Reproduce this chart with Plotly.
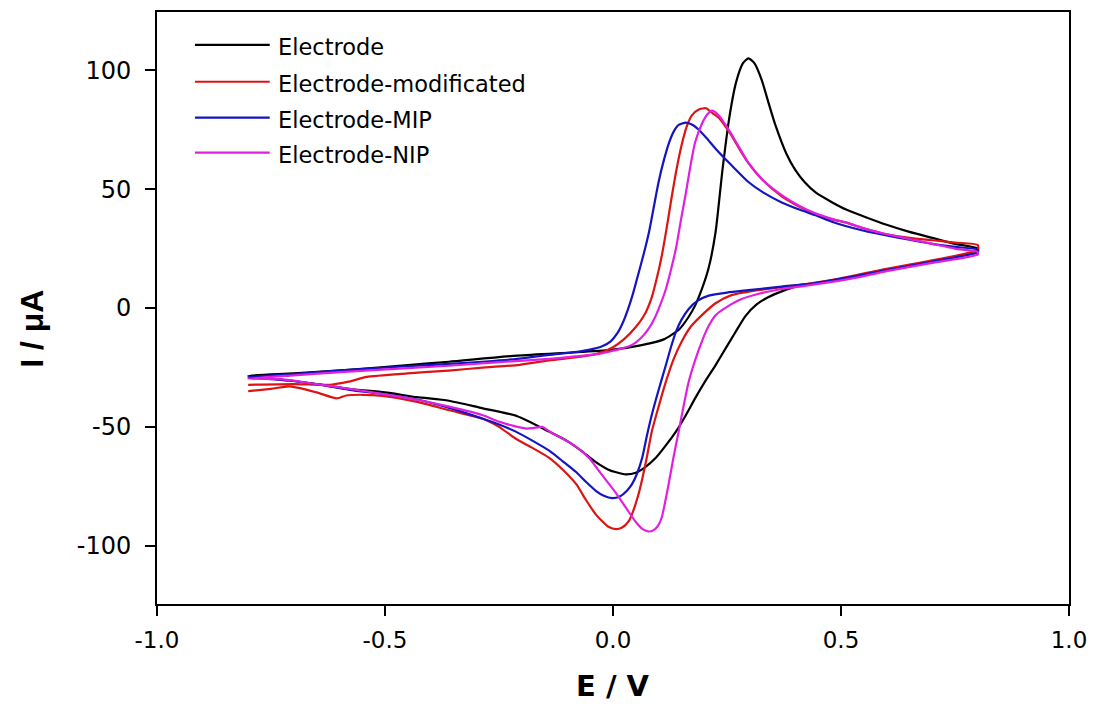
import plotly.graph_objects as go

# ---- data (E in V, I in uA); each CV loop = forward scan followed by reverse scan ----
electrode_E = [-0.80, -0.70, -0.58, -0.45, -0.36, -0.21, -0.07, 0.00, 0.06, 0.11, 0.145, 0.165, 0.18, 0.195,
               0.21, 0.225, 0.24, 0.255, 0.27, 0.285, 0.297, 0.31, 0.326, 0.34, 0.356, 0.38, 0.40, 0.42, 0.445,
               0.48, 0.51, 0.55, 0.60, 0.65, 0.70, 0.75, 0.80,
               0.80, 0.75, 0.70, 0.65, 0.60, 0.55, 0.50, 0.45, 0.40, 0.37, 0.34, 0.315, 0.29, 0.269, 0.247,
               0.225, 0.20, 0.18, 0.16, 0.138, 0.115, 0.094, 0.07, 0.05, 0.028, 0.005, -0.01, -0.04, -0.07,
               -0.10, -0.14, -0.21, -0.29, -0.36, -0.43, -0.50, -0.58, -0.65, -0.71, -0.80]
electrode_I = [-28.5, -27.5, -26.0, -24.0, -22.6, -20.0, -18.5, -17.5, -15.7, -13.3, -9.0, -4.0, 1.0, 8.0,
               17.0, 32.0, 58.0, 80.0, 95.0, 103.0, 105.0, 103.0, 96.0, 87.0, 77.0, 65.0, 58.0, 53.0, 48.5,
               44.5, 41.5, 38.5, 35.0, 32.0, 29.5, 27.0, 25.0,
               23.5, 21.5, 19.5, 17.5, 15.8, 14.0, 12.3, 10.5, 9.0, 7.0, 4.5, 1.5, -3.5, -10.0, -17.0,
               -24.0, -31.5, -38.0, -45.0, -52.0, -58.0, -63.0, -67.0, -69.3, -70.0, -69.0, -68.0, -64.5, -60.0,
               -56.0, -52.0, -45.5, -42.0, -39.0, -37.5, -35.5, -34.0, -32.0, -30.5, -28.5]

modified_E = [-0.80, -0.70, -0.62, -0.58, -0.54, -0.45, -0.36, -0.28, -0.21, -0.14, -0.07, -0.03, 0.00,
              0.025, 0.05, 0.07, 0.085, 0.096, 0.107, 0.118, 0.129, 0.14, 0.151, 0.162, 0.173, 0.188, 0.204,
              0.218, 0.232, 0.246, 0.26, 0.28, 0.297, 0.33, 0.37, 0.41, 0.444, 0.48, 0.51, 0.55, 0.60, 0.65,
              0.70, 0.75, 0.80,
              0.80, 0.70, 0.60, 0.50, 0.43, 0.37, 0.31, 0.26, 0.225, 0.195, 0.17, 0.151, 0.133, 0.116, 0.10,
              0.085, 0.074, 0.064, 0.055, 0.045, 0.035, 0.02, 0.007, -0.01, -0.037, -0.06, -0.081, -0.11,
              -0.14, -0.18, -0.213, -0.25, -0.287, -0.359, -0.43, -0.505, -0.55, -0.585, -0.606, -0.65,
              -0.709, -0.75, -0.80]
modified_I = [-32.3, -32.0, -32.3, -31.0, -29.0, -27.5, -26.3, -25.0, -24.0, -22.0, -20.5, -19.0, -16.5,
              -13.0, -8.0, -2.5, 4.5, 12.5, 22.0, 34.0, 47.0, 59.0, 69.0, 76.5, 81.0, 83.5, 84.0,
              82.0, 80.0, 76.5, 72.5, 66.0, 61.0, 53.5, 47.0, 42.5, 39.5, 37.3, 36.0, 33.5, 31.0, 29.5,
              28.5, 27.5, 26.5,
              24.5, 20.0, 16.5, 12.5, 10.3, 8.8, 7.3, 5.4, 2.0, -3.0, -8.0, -14.0, -21.5, -31.0, -41.5,
              -52.0, -63.0, -72.0, -79.0, -85.0, -89.5, -92.3, -93.0, -92.0, -87.0, -80.5, -74.0, -68.0,
              -63.0, -58.5, -55.0, -50.0, -46.5, -43.0, -39.5, -37.0, -36.5, -36.8, -38.0, -35.5,
              -33.0, -34.0, -35.0]

mip_E = [-0.80, -0.70, -0.58, -0.45, -0.36, -0.28, -0.21, -0.14, -0.09, -0.053, -0.025, -0.005, 0.01,
         0.022, 0.033, 0.043, 0.053, 0.065, 0.079, 0.09, 0.10, 0.112, 0.123, 0.134, 0.144, 0.16, 0.175,
         0.188, 0.205, 0.225, 0.26, 0.297, 0.33, 0.37, 0.41, 0.444, 0.48, 0.51, 0.55, 0.60, 0.65, 0.70,
         0.75, 0.80,
         0.80, 0.70, 0.60, 0.52, 0.444, 0.37, 0.297, 0.25, 0.21, 0.185, 0.166, 0.15, 0.138, 0.127, 0.116,
         0.10, 0.085, 0.074, 0.064, 0.053, 0.042, 0.03, 0.015, -0.002, -0.02, -0.037, -0.06, -0.081,
         -0.11, -0.14, -0.175, -0.213, -0.25, -0.287, -0.359, -0.43, -0.50, -0.578, -0.64, -0.709, -0.80]
mip_I = [-29.0, -27.8, -26.0, -24.5, -23.5, -22.5, -21.4, -19.7, -18.7, -17.6, -16.2, -14.0, -10.5,
         -6.0, -0.5, 5.5, 12.5, 21.0, 32.0, 43.0, 53.0, 62.5, 69.6, 74.5, 77.0, 78.0, 77.0,
         75.0, 71.5, 67.0, 60.0, 53.0, 48.5, 44.4, 41.3, 39.0, 36.3, 34.5, 32.5, 30.5, 28.7, 27.0,
         25.7, 24.5,
         23.5, 19.5, 16.0, 13.0, 10.5, 9.0, 7.5, 6.5, 5.2, 3.0, -0.4, -5.0, -10.0, -16.5, -24.0,
         -34.5, -45.0, -54.0, -63.0, -69.5, -74.0, -77.0, -79.3, -80.0, -79.0, -77.0, -73.0, -69.0,
         -64.5, -60.0, -56.0, -52.0, -49.0, -46.5, -42.0, -38.5, -36.3, -34.4, -32.3, -30.5, -29.0]

nip_E = [-0.80, -0.70, -0.58, -0.45, -0.36, -0.25, -0.14, -0.08, -0.03, 0.00, 0.02, 0.042, 0.062, 0.079,
         0.092, 0.104, 0.116, 0.127, 0.138, 0.149, 0.16, 0.17, 0.18, 0.195, 0.207, 0.217, 0.232, 0.247,
         0.26, 0.28, 0.297, 0.33, 0.37, 0.41, 0.444, 0.48, 0.51, 0.55, 0.60, 0.65, 0.70, 0.75, 0.80,
         0.80, 0.70, 0.60, 0.54, 0.48, 0.42, 0.37, 0.32, 0.282, 0.25, 0.225, 0.21, 0.195, 0.18, 0.166,
         0.155, 0.144, 0.133, 0.123, 0.115, 0.107, 0.099, 0.09, 0.078, 0.065, 0.05, 0.03, 0.007, -0.025,
         -0.053, -0.08, -0.11, -0.135, -0.155, -0.175, -0.19, -0.22, -0.25, -0.287, -0.359, -0.43, -0.50,
         -0.578, -0.65, -0.724, -0.80]
nip_I = [-29.7, -28.3, -26.8, -25.3, -24.3, -22.8, -21.4, -20.3, -19.3, -18.0, -17.0, -15.5, -12.5, -8.5,
         -4.0, 1.5, 8.0, 16.0, 25.0, 37.0, 48.6, 60.0, 69.6, 77.5, 81.5, 83.0, 81.0, 77.0,
         73.0, 66.5, 61.0, 53.5, 47.5, 42.8, 39.8, 37.5, 36.0, 33.5, 31.0, 29.0, 27.0, 25.0, 23.5,
         22.5, 19.0, 15.5, 13.0, 11.0, 9.3, 8.0, 6.0, 3.8, 0.5, -3.0, -7.5, -14.0, -22.0, -31.0,
         -41.0, -52.0, -62.5, -73.0, -81.0, -88.0, -91.5, -93.3, -94.0, -93.0, -90.0, -84.5, -78.0, -70.0,
         -63.0, -58.5, -55.0, -52.5, -50.0, -50.5, -50.7, -49.5, -47.8, -45.0, -41.5, -38.6, -36.3,
         -34.0, -32.0, -30.0, -29.7]

series_names = ["Electrode", "Electrode-modificated", "Electrode-MIP", "Electrode-NIP"]
series_E = [electrode_E, modified_E, mip_E, nip_E]
series_I = [electrode_I, modified_I, mip_I, nip_I]
series_colors = ["#000000", "#dc1414", "#1414c0", "#e020e0"]

x_ticks = [-1.0, -0.5, 0.0, 0.5, 1.0]
x_tick_labels = ["-1.0", "-0.5", "0.0", "0.5", "1.0"]
y_ticks = [-100, -50, 0, 50, 100]
y_tick_labels = ["-100", "-50", "0", "50", "100"]

FONT = "DejaVu Sans, Arial, sans-serif"

fig = go.Figure()
for name, ex, iy, col in zip(series_names, series_E, series_I, series_colors):
    fig.add_trace(go.Scatter(x=ex, y=iy, mode="lines", name=name, showlegend=False,
                             line=dict(color=col, width=2.2, shape="spline", smoothing=0.6)))

# legend drawn by hand, with the long line samples of the original
leg_y = [0.9444, 0.8822, 0.8215, 0.7626]
for name, col, ly in zip(series_names, series_colors, leg_y):
    fig.add_shape(type="line", xref="paper", yref="paper", x0=0.0416, x1=0.1236, y0=ly, y1=ly,
                  line=dict(color=col, width=2.2))
    fig.add_annotation(xref="paper", yref="paper", x=0.1300, y=ly - 0.004, text=name, showarrow=False,
                       xanchor="left", yanchor="middle", font=dict(family=FONT, size=22.5, color="black"))

# axis titles
fig.add_annotation(xref="paper", yref="paper", x=0.5, y=-0.1380, text="<b>E / V</b>", showarrow=False,
                   xanchor="center", yanchor="middle", font=dict(family=FONT, size=29, color="black"))
fig.add_annotation(xref="paper", yref="paper", x=-0.137, y=0.465, text="<b>I / \u03bcA</b>", showarrow=False,
                   textangle=-90, xanchor="center", yanchor="middle",
                   font=dict(family="Liberation Sans, Arial, sans-serif", size=32, color="black"))

fig.update_layout(
    width=1097, height=706,
    margin=dict(l=157, r=26, t=10, b=102),
    paper_bgcolor="white", plot_bgcolor="white",
    font=dict(family=FONT, color="black"),
)
fig.update_xaxes(range=[-1.0, 1.0], tickvals=x_ticks, ticktext=x_tick_labels,
                 showgrid=False, zeroline=False, showline=True, linecolor="black", linewidth=2,
                 mirror=True, ticks="outside", ticklen=10, tickwidth=1.5, tickcolor="black",
                 tickfont=dict(family=FONT, size=23, color="black"), ticklabelstandoff=4)
fig.update_yaxes(range=[-124.5, 124.5], tickvals=y_ticks, ticktext=y_tick_labels,
                 showgrid=False, zeroline=False, showline=True, linecolor="black", linewidth=2,
                 mirror=True, ticks="outside", ticklen=10, tickwidth=1.5, tickcolor="black",
                 tickfont=dict(family=FONT, size=24, color="black"), ticklabelstandoff=9)

fig.write_html("out.html", config={"displayModeBar": False},
               post_script="document.body.style.margin='0';")
